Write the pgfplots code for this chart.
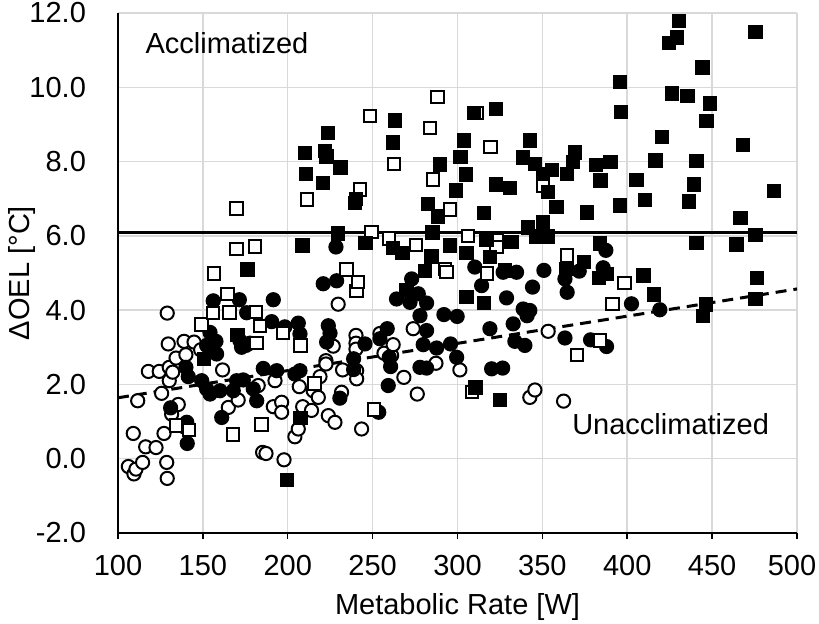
\documentclass[border=0pt]{standalone}
\usepackage{fontspec}
\setmainfont{Liberation Sans}
\usepackage{pgfplots}
\pgfplotsset{compat=1.18}
\begin{document}
\fontsize{14.5}{17}\selectfont
\begin{tikzpicture}[font=\fontsize{14.5}{17}\selectfont]
\begin{axis}[
 scale only axis, width=339.5pt, height=260pt,
 xmin=100, xmax=500, ymin=-2, ymax=12,
 xtick={100,150,200,250,300,350,400,450,500},
 ytick={-2,0,2,4,6,8,10,12},
 xticklabels={100,150,200,250,300,350,400,450,{\kern-2.5pt 500\kern2.5pt}},
 yticklabels={-2.0,0.0,2.0,4.0,6.0,8.0,10.0,12.0},
 grid=major, grid style={draw=black!15, line width=0.75pt},
 axis x line=bottom, axis y line=left,
 axis line style={-, line width=1pt, black},
 tick align=outside, major tick length=3pt,
 x tick style={black, line width=0.75pt},
 y tick style={draw=none},
 xticklabel style={yshift=-3pt},
 yticklabel style={xshift=-8pt},
 xlabel={Metabolic Rate [W]}, ylabel={ΔOEL [°C]},
 every axis x label/.style={at={(axis description cs:0.5,-0.1423)}, anchor=center},
 every axis y label/.style={at={(axis description cs:-0.1414,0.5)}, rotate=90, anchor=center},
 clip=false,
]
\addplot[black, line width=1.5pt, no marks] coordinates {(100,6.1) (500,6.1)};
\addplot[black, line width=1.5pt, no marks, dash pattern=on 5.5pt off 3.5pt] coordinates {(100,1.64) (500,4.57)};

% open circles
\addplot[only marks, mark=*, mark size=3.3pt, mark options={fill=white, draw=black, line width=1pt}] coordinates {
(106.1,-0.21) (109.4,-0.41) (110.6,-0.28) (114.5,-0.10) (109.0,0.68) (116.3,0.32) (122.4,0.30) (127.1,0.68)
(128.7,-0.10) (129.0,-0.53) (111.6,1.56) (117.9,2.35) (124.3,2.35) (125.7,1.76) (129.0,3.92) (129.6,3.09)
(130.2,2.46) (130.2,2.10) (131.6,1.20) (132.2,2.33) (134.2,2.71) (135.5,1.46) (138.9,3.16) (140.0,2.80)
(144.8,3.14) (148.7,2.93) (161.6,2.39) (165.0,1.38) (170.8,1.58) (182.6,1.97) (185.2,0.17) (187.2,0.14)
(191.5,1.40) (192.5,2.10) (196.4,1.52) (196.4,1.25) (197.8,-0.03) (204.2,0.59) (206.2,0.80) (206.8,1.94)
(208.8,1.40) (214.0,1.30) (215.0,1.83) (218.0,1.65) (219.0,2.21) (222.5,2.64) (222.5,2.55) (223.9,1.16)
(226.8,3.03) (227.8,0.98) (229.7,4.16) (231.7,1.79) (232.3,2.39) (240.2,3.32) (240.2,3.11) (240.2,2.95)
(240.6,2.37) (240.6,2.15) (243.5,0.80) (254.3,3.37) (256.7,2.84) (261.2,2.78) (262.1,3.07) (268.4,2.19)
(273.9,3.50) (276.3,1.74) (287.3,2.57) (301.4,2.39) (342.6,1.65) (345.6,1.85) (353.4,3.43) (362.5,1.55)
};

% filled circles
\addplot[only marks, mark=*, mark size=3.3pt, mark options={fill=black, draw=black, line width=1pt}] coordinates {
(131.0,1.37) (138.9,0.86) (140.5,0.98) (140.8,0.41) (140.0,2.46) (141.4,2.21) (149.3,2.10) (152.2,1.88)
(154.2,1.74) (160.1,1.83) (161.1,1.11) (152.2,3.05) (154.2,3.40) (157.7,3.16) (158.1,2.82) (156.1,4.25)
(167.9,1.83) (169.9,2.10) (173.8,2.12) (171.8,3.18) (172.8,3.00) (175.4,3.05) (177.7,3.11) (171.5,4.28)
(175.8,3.93) (179.7,1.88) (181.7,1.56) (185.6,2.43) (190.5,3.69) (191.5,4.28) (193.5,2.37) (198.3,3.55)
(204.2,2.28) (207.2,2.37) (206.2,3.65) (207.2,3.36) (220.9,4.71) (222.9,3.14) (223.9,3.58) (224.9,3.38)
(228.4,5.70) (228.8,4.79) (230.7,1.63) (238.8,2.69) (238.8,2.40) (245.5,3.09) (253.6,1.25) (254.3,3.23)
(258.6,3.50) (259.2,1.97) (259.8,2.73) (260.6,2.48) (264.1,4.30) (272.0,4.21) (273.0,4.84) (276.9,4.44)
(277.9,3.85) (277.9,2.46) (279.8,3.07) (281.8,4.19) (281.8,3.45) (281.8,2.44) (287.7,2.98) (292.0,3.88)
(295.9,3.09) (299.5,2.73) (299.8,3.83) (310.2,5.16) (314.2,4.66) (319.1,3.50) (320.1,2.42) (326.6,2.44)
(326.9,5.02) (328.9,4.33) (332.8,3.63) (333.8,3.16) (334.8,5.02) (338.7,4.03) (339.7,3.05) (341.0,3.85)
(342.6,3.99) (344.2,4.62) (350.9,5.07) (363.3,4.84) (363.3,3.25) (364.6,4.48) (371.7,5.05) (378.4,3.20)
(385.8,5.14) (387.4,5.61) (387.8,3.02) (402.5,4.17) (419.2,4.01)
};

% open squares
\addplot[only marks, mark=square*, mark size=3.1pt, mark options={fill=white, draw=black, line width=1pt}] coordinates {
(134.2,0.89) (142.0,0.77) (149.3,3.61) (155.8,3.92) (156.5,4.99) (164.4,4.44) (165.6,3.94) (167.9,0.65)
(169.9,5.65) (169.9,6.74) (180.7,5.71) (181.3,3.95) (181.7,3.11) (183.6,3.58) (184.6,0.92) (197.3,3.39)
(207.6,3.05) (211.3,6.98) (215.8,2.02) (234.7,5.09) (240.6,4.52) (241.5,4.76) (242.5,7.25) (248.4,9.22)
(249.4,6.10) (250.9,1.33) (259.5,5.93) (262.5,7.94) (275.7,5.76) (283.7,8.90) (285.7,7.52) (288.3,9.74)
(292.6,5.11) (293.6,5.02) (295.5,6.71) (306.3,6.00) (308.6,1.79) (311.6,9.31) (317.5,4.99) (319.5,8.39)
(323.0,5.88) (323.0,5.70) (350.5,7.34) (364.6,5.47) (370.3,2.80) (383.9,3.18) (391.3,4.17) (398.3,4.73)
};

% filled squares
\addplot[only marks, mark=square*, mark size=3.1pt, mark options={fill=black, draw=black, line width=1pt}] coordinates {
(150.6,2.69) (170.3,3.33) (176.2,5.09) (199.5,-0.57) (207.4,1.09) (208.8,5.74) (210.1,8.23) (210.7,7.66)
(220.7,7.42) (221.9,8.28) (222.9,8.14) (223.7,8.77) (229.7,6.06) (231.1,7.84) (239.6,6.88) (240.2,7.00)
(245.9,5.81) (262.1,5.68) (262.1,8.51) (263.1,9.11) (267.5,5.54) (270.0,4.55) (280.8,5.05) (282.7,6.85)
(284.7,5.44) (285.3,6.09) (288.6,6.52) (289.6,7.92) (295.5,5.74) (299.1,7.22) (301.8,8.12) (303.8,8.57)
(304.9,7.65) (305.4,5.54) (305.4,4.35) (309.8,9.31) (310.5,1.92) (315.5,4.19) (315.5,6.62) (317.1,5.89)
(319.1,5.43) (322.6,9.41) (322.6,7.38) (325.0,1.58) (327.9,5.07) (330.9,7.29) (331.9,5.83) (338.7,8.11)
(341.5,6.23) (342.6,8.57) (345.6,7.94) (346.6,5.98) (350.5,7.67) (350.5,6.38) (353.4,7.18) (353.4,5.98)
(355.8,7.78) (358.3,6.78) (364.2,5.11) (364.6,7.67) (368.1,7.99) (369.1,8.24) (374.4,5.29) (376.4,6.63)
(381.5,7.90) (383.5,4.87) (383.9,5.79) (384.3,7.49) (387.8,4.98) (390.1,7.99) (395.6,6.82) (395.6,10.14)
(396.2,9.33) (405.5,7.51) (409.6,4.93) (410.6,6.97) (415.7,4.42) (416.7,8.03) (420.3,8.66) (424.7,11.19)
(426.4,9.83) (429.4,11.34) (430.6,11.79) (435.5,9.76) (436.5,6.92) (439.2,7.38) (440.8,8.01) (440.8,5.80)
(444.3,10.53) (444.7,3.85) (446.3,4.15) (446.7,9.09) (448.6,9.56) (464.3,5.77) (466.7,6.48) (468.2,8.44)
(475.6,11.49) (475.6,6.03) (475.6,4.30) (476.5,4.87) (486.3,7.20)
};

\node[anchor=west, inner sep=0pt] at (axis cs:116,11.19) {Acclimatized};
\node[anchor=west, inner sep=0pt] at (axis cs:367.4,0.92) {Unacclimatized};
\end{axis}
\pgfresetboundingbox
\path[use as bounding box] (-59pt,-45.5pt) rectangle (350.5pt,266.5pt);
\end{tikzpicture}
\end{document}
